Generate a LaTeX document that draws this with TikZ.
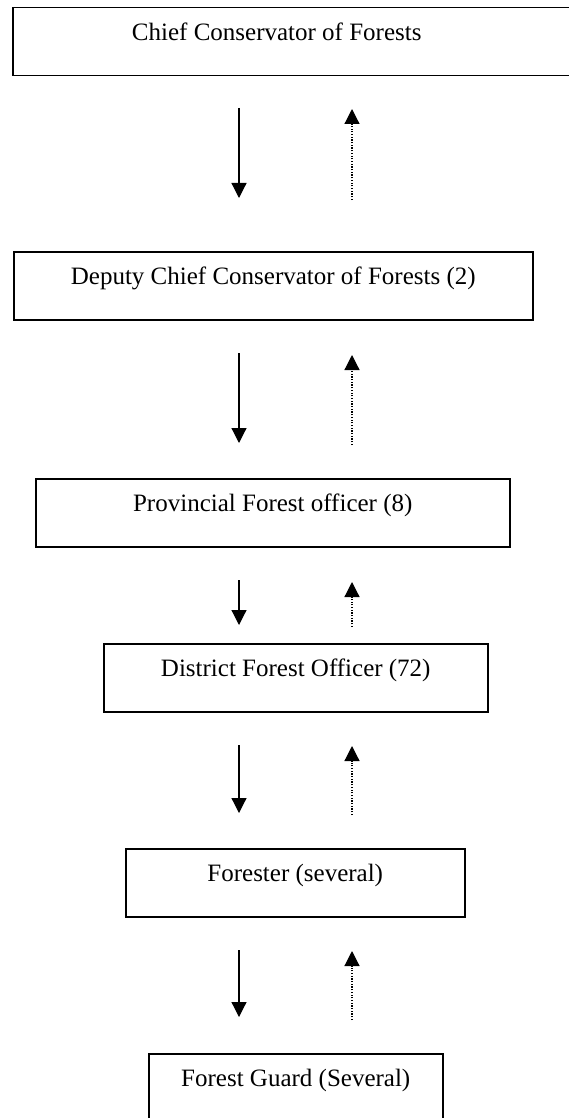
\documentclass[tikz,border=0pt]{standalone}
\usepackage{fontspec}
\setmainfont{Liberation Serif}
\usetikzlibrary{
  arrows.meta,
  positioning,
  calc
}
\tikzset{
  % Rank box (text sits in the upper part)
  rankbox/.style={
    rectangle, draw=black, line width=1.5pt, fill=white,
    anchor=north west, inner sep=0pt,
    minimum width=#1, minimum height=68pt,
    text height=17pt, text depth=19pt,
    font=\fontsize{25}{30}\selectfont
  },
  % Order going down
  downarrow/.style={
    -{Triangle[width=15pt, length=15pt]}, line width=1.2pt, black
  },
  % Report going up
  uparrow/.style={
    -{Triangle[width=15pt, length=15pt]}, line width=1.2pt, black,
    dash pattern=on 1.2pt off 1.5pt
  },
}

\begin{document}
\begin{tikzpicture}[x=1pt, y=-1pt]

\useasboundingbox (0,0) rectangle (568,1118);

% ── Ranks ─────────────────────────────────────────────────────────────────────
\node[rankbox=620pt] (chief) at (12,7)
  {Chief Conservator of Forests\hspace*{92pt}};
\node[rankbox=519pt] (deputy) at (13,251)
  {Deputy Chief Conservator of Forests (2)};
\node[rankbox=474pt] (provincial) at (35,478)
  {Provincial Forest officer (8)};
\node[rankbox=384pt] (district) at (103,643)
  {District Forest Officer (72)};
\node[rankbox=339pt] (forester) at (125,848)
  {Forester (several)};
\node[rankbox=294pt, minimum height=80pt, text depth=31pt] (guard) at (148,1053)
  {Forest Guard (Several)};

% ── Orders down, reports up ───────────────────────────────────────────────────
\foreach \lvl/\ya/\yb/\yc/\yd in {1/108/198/200/109, 2/353/443/445/355,
                                   3/580/625/627/582, 4/745/813/815/746,
                                   5/950/1017/1020/951}{
  \coordinate (down\lvl top) at (239,\ya);
  \coordinate (down\lvl bot) at (239,\yb);
  \coordinate (up\lvl bot) at (352,\yc);
  \coordinate (up\lvl top) at (352,\yd);
  \draw[downarrow] (down\lvl top) -- (down\lvl bot);
  \draw[uparrow] (up\lvl bot) -- (up\lvl top);
}

\end{tikzpicture}
\end{document}
